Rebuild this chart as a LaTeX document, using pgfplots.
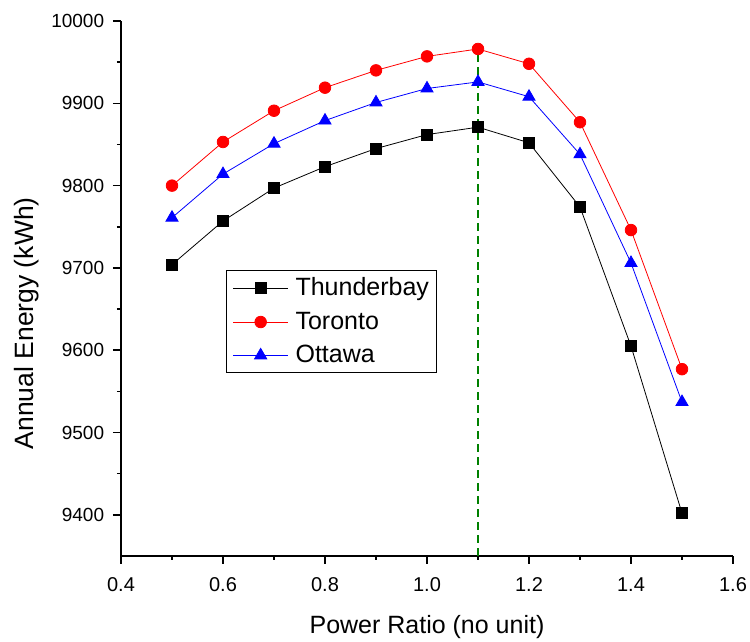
\documentclass[border=0pt]{standalone}
\usepackage{fontspec}
\setmainfont{Liberation Sans}
\usepackage{pgfplots}
\pgfplotsset{compat=1.18}
\definecolor{dgreen}{RGB}{0,128,0}
\begin{document}
\fontsize{20pt}{24pt}\selectfont
\begin{tikzpicture}
\path[use as bounding box] (-121pt,-86pt) rectangle (629pt,556pt);
\begin{axis}[
  scale only axis, width=612pt, height=535pt,
  xmin=0.4, xmax=1.6, ymin=9350, ymax=10000,
  axis x line*=bottom, axis y line*=left,
  axis line style={-, line width=1.6pt},
  every outer x axis line/.append style={-},
  every outer y axis line/.append style={-},
  xtick={0.4,0.6,0.8,1.0,1.2,1.4,1.6},
  ytick={9400,9500,9600,9700,9800,9900,10000},
  minor x tick num=1, minor y tick num=1,
  tick align=outside,
  major tick length=8pt, minor tick length=4pt,
  every tick/.style={black, line width=1.6pt},
  scaled y ticks=false,
  /pgf/number format/assume math mode=true,
  /pgf/number format/1000 sep={},
  xticklabel style={/pgf/number format/fixed, /pgf/number format/fixed zerofill, /pgf/number format/precision=1, yshift=-7pt, font=\fontsize{20pt}{24pt}\selectfont},
  yticklabel style={/pgf/number format/fixed, /pgf/number format/precision=0, xshift=-2pt, font=\fontsize{19pt}{23pt}\selectfont},
  label style={font=\fontsize{25pt}{30pt}\selectfont},
  xlabel={Power Ratio (no unit)}, ylabel={Annual Energy (kWh)},
  xlabel style={yshift=-10pt},
  ylabel style={at={(ticklabel cs:0.435)}, yshift=-1pt, font=\fontsize{26.5pt}{30pt}\selectfont},
  legend style={at={(0.172,0.534)}, anchor=north west, draw=black, line width=1pt,
    font=\fontsize{25pt}{30pt}\selectfont, inner xsep=6pt, inner ysep=5pt, row sep=9pt},
  legend cell align=left,
  legend image code/.code={\draw[#1] (7pt,0pt) -- (62pt,0pt); \draw[#1] plot coordinates {(34.5pt,0pt)}; \path (67pt,0pt);},
]
\addplot[black, line width=0.8pt, mark=square*, mark size=5.5pt, mark options={solid}] coordinates {
(0.5,9704) (0.6,9757) (0.7,9797) (0.8,9823) (0.9,9845) (1.0,9862) (1.1,9871) (1.2,9852) (1.3,9774) (1.4,9605) (1.5,9402)};
\addlegendentry{Thunderbay}
\addplot[red, line width=0.8pt, mark=*, mark size=5.8pt] coordinates {
(0.5,9800) (0.6,9853) (0.7,9891) (0.8,9919) (0.9,9940) (1.0,9957) (1.1,9966) (1.2,9948) (1.3,9877) (1.4,9746) (1.5,9577)};
\addlegendentry{Toronto}
\addplot[blue, line width=0.8pt, mark=triangle*, mark size=7pt] coordinates {
(0.5,9761) (0.6,9814) (0.7,9851) (0.8,9879) (0.9,9901) (1.0,9918) (1.1,9926) (1.2,9908) (1.3,9838) (1.4,9706) (1.5,9537)};
\addlegendentry{Ottawa}
\addplot[dgreen, line width=2pt, dash pattern=on 8pt off 5pt, forget plot] coordinates {(1.1,9350) (1.1,9966)};
\end{axis}
\end{tikzpicture}
\end{document}
